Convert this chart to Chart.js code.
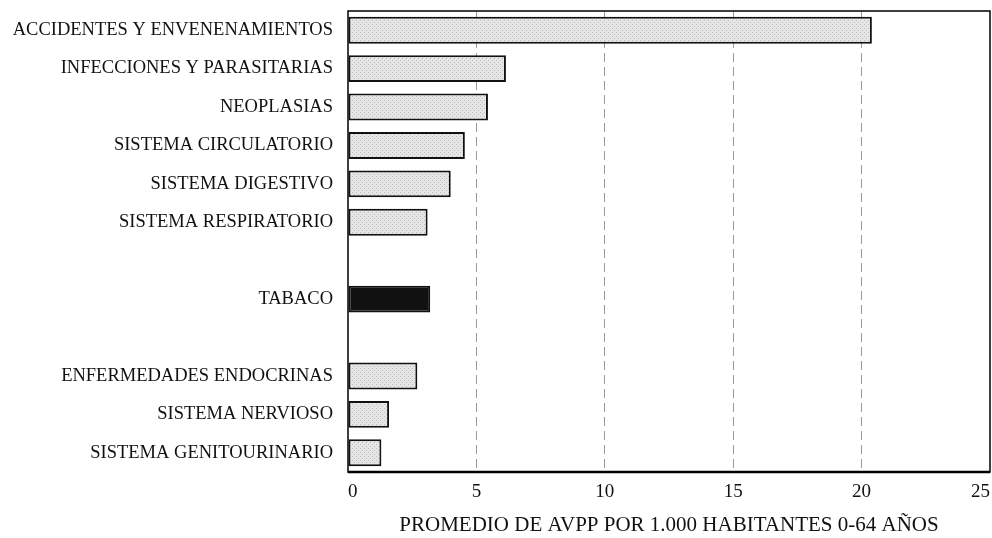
<!DOCTYPE html>
<html>
<head>
<meta charset="utf-8">
<script src="https://cdn.jsdelivr.net/npm/chart.js@4.4.1/dist/chart.umd.min.js"></script>
<style>
  html, body { margin: 0; padding: 0; background: #fff; }
  #wrap { width: 992px; height: 538px; }
</style>
</head>
<body>
<div id="wrap"><canvas id="avppChart"></canvas></div>
<script>
// categories (empty entries are the gaps around TABACO)
const causes = [
    'ACCIDENTES Y ENVENENAMIENTOS',
    'INFECCIONES Y PARASITARIAS',
    'NEOPLASIAS',
    'SISTEMA CIRCULATORIO',
    'SISTEMA DIGESTIVO',
    'SISTEMA RESPIRATORIO',
    '',
    'TABACO',
    '',
    'ENFERMEDADES ENDOCRINAS',
    'SISTEMA NERVIOSO',
    'SISTEMA GENITOURINARIO'
];
const avpp = [20.4, 6.15, 5.45, 4.55, 4.0, 3.1, null, 3.2, null, 2.7, 1.6, 1.3];
const xTicks = [0, 5, 10, 15, 20, 25];

// light grey stipple like the printed original
function stipple() {
    const c = document.createElement('canvas');
    c.width = 4; c.height = 4;
    const g = c.getContext('2d');
    g.fillStyle = '#e6e6e6';
    g.fillRect(0, 0, 4, 4);
    g.fillStyle = '#bdbdbd';
    g.fillRect(0, 0, 1, 1);
    g.fillRect(2, 2, 1, 1);
    return g.createPattern(c, 'repeat');
}
const grey = stipple();

// black frame round the plot area
const frame = {
    id: 'frame',
    afterDraw(chart) {
        const a = chart.chartArea, ctx = chart.ctx;
        ctx.save();
        ctx.strokeStyle = '#000';
        ctx.lineWidth = 1.5;
        ctx.strokeRect(a.left, a.top, a.right - a.left, a.bottom - a.top);
        ctx.lineWidth = 2.5;
        ctx.beginPath();
        ctx.moveTo(a.left, a.bottom);
        ctx.lineTo(a.right, a.bottom);
        ctx.stroke();
        ctx.restore();
    }
};

new Chart(document.getElementById('avppChart'), {
    type: 'bar',
    data: {
        labels: causes,
        datasets: [{
            data: avpp,
            backgroundColor: causes.map(c => c === 'TABACO' ? '#111' : grey),
            borderColor: '#111',
            borderWidth: 2,
            borderSkipped: false,
            barPercentage: 0.7,
            categoryPercentage: 1
        }]
    },
    options: {
        indexAxis: 'y',
        responsive: true,
        maintainAspectRatio: false,
        animation: false,
        layout: { padding: { top: 11, right: 2, left: 0, bottom: 0 } },
        plugins: {
            legend: { display: false },
            tooltip: { enabled: false }
        },
        scales: {
            x: {
                min: 0,
                max: 25,
                afterBuildTicks(scale) {
                    scale.ticks = xTicks.map(v => ({ value: v }));
                },
                afterFit(scale) {
                    scale.paddingRight = 0;
                    scale.paddingLeft = 0;
                },
                grid: {
                    color: ctx => (ctx.tick && (ctx.tick.value === 0 || ctx.tick.value === 25)) ? 'rgba(0,0,0,0)' : '#999',
                    lineWidth: 1,
                    drawTicks: false
                },
                border: { display: false, dash: [9, 5] },
                ticks: {
                    color: '#111',
                    padding: 9,
                    align: 'inner',
                    font: { family: 'Liberation Serif', size: 19 }
                },
                title: {
                    display: true,
                    text: 'PROMEDIO DE AVPP POR 1.000 HABITANTES 0-64 AÑOS',
                    color: '#111',
                    font: { family: 'Liberation Serif', size: 21 },
                    padding: { top: 0, bottom: 0 }
                }
            },
            y: {
                afterFit(scale) {
                    scale.width = 348;
                    scale.paddingTop = 0;
                    scale.paddingBottom = 0;
                },
                grid: { display: false },
                border: { display: false },
                ticks: {
                    color: '#111',
                    padding: 7,
                    font: { family: 'Liberation Serif', size: 18.5 }
                }
            }
        }
    },
    plugins: [frame]
});
</script>
</body>
</html>
